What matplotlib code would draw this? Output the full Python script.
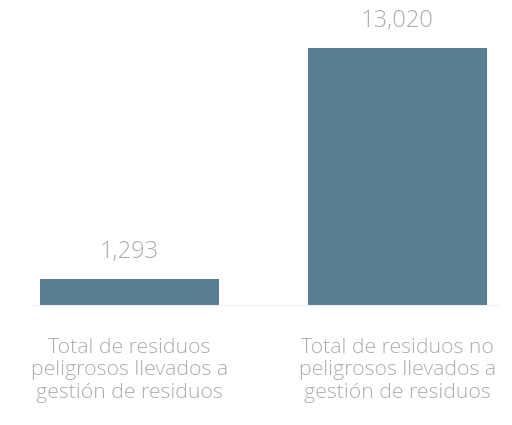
import numpy as np
from matplotlib import pyplot as plt

categorias = ["Total de residuos\npeligrosos llevados a\ngestión de residuos",
              "Total de residuos no\npeligrosos llevados a\ngestión de residuos"]
valores = [1293, 13020]
etiquetas = ["1,293", "13,020"]

plt.rcParams['font.family'] = ['Open Sans', 'DejaVu Sans']

fig = plt.figure(figsize=(5.12, 4.25), dpi=100)
ax = fig.add_axes([0, 120/425, 1, 305/425])

x = np.arange(len(valores))
bars = ax.bar(x, valores, width=0.668, color="#597e91")
ax.set_xlim(-0.483, 1.427)
ax.set_ylim(0, 15452)

for b, t in zip(bars, etiquetas):
    ax.annotate(t, (b.get_x() + b.get_width()/2, b.get_height()),
                xytext=(0, 19.5), textcoords="offset points",
                ha="center", va="center", color="#acacac", fontsize=17, weight="light")

for xi, c in zip(x, categorias):
    ax.annotate(c, (xi, 0), xytext=(0, -47), textcoords="offset points",
                ha="center", va="center", color="#acacac", fontsize=15.3,
                weight="light", linespacing=1.17, annotation_clip=False)

ax.set_xticks([])
ax.set_yticks([])
for s in ["top", "left", "right"]:
    ax.spines[s].set_visible(False)
ax.spines["bottom"].set_color("#eeeeee")
ax.spines["bottom"].set_bounds(-0.36, 1.37)

fig.savefig("out.png", dpi=100)
